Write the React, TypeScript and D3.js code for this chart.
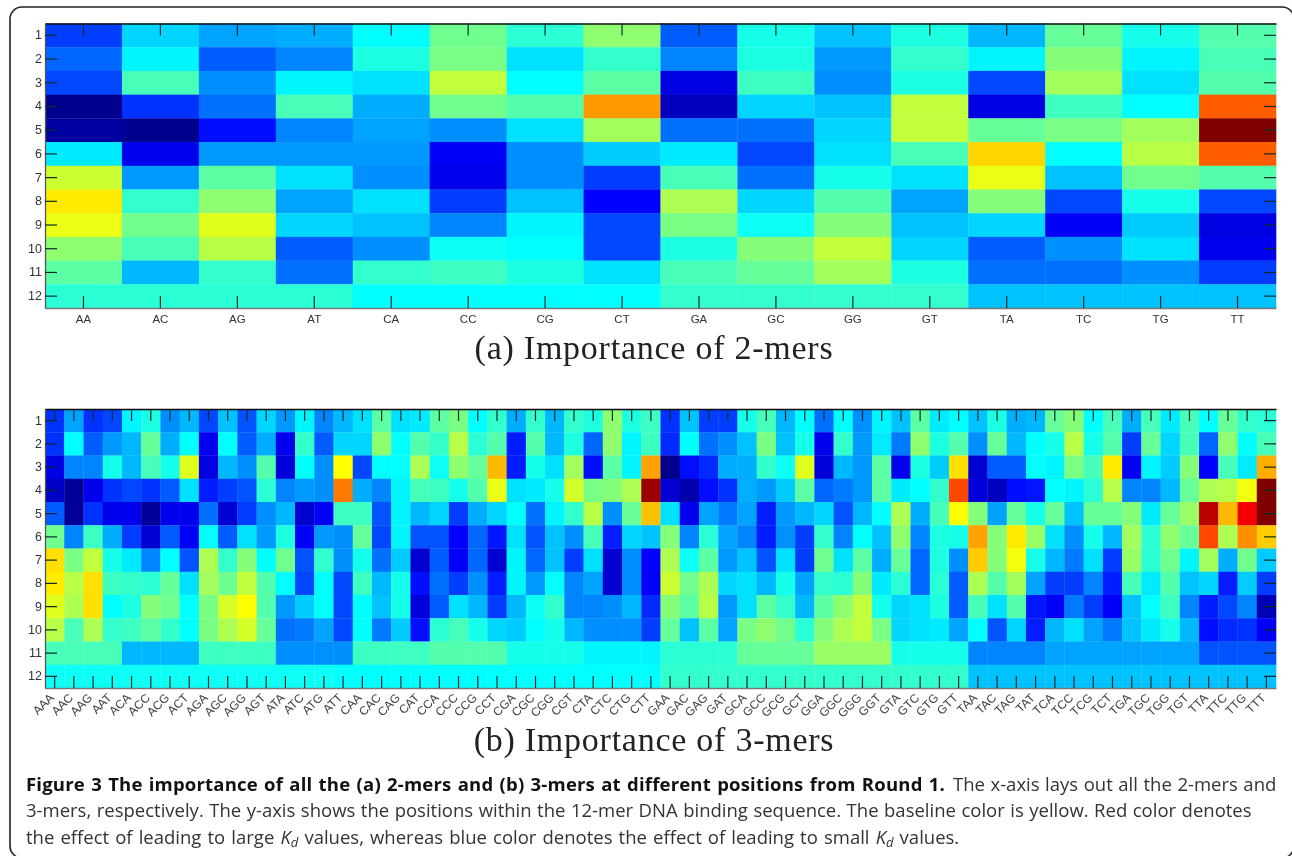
import React, { useEffect, useRef } from 'react';
import * as d3 from 'd3';

const positions = ['1', '2', '3', '4', '5', '6', '7', '8', '9', '10', '11', '12'];

const labels2mer = ['AA', 'AC', 'AG', 'AT', 'CA', 'CC', 'CG', 'CT', 'GA', 'GC', 'GG', 'GT', 'TA', 'TC', 'TG', 'TT'];

const labels3mer = [
  'AAA', 'AAC', 'AAG', 'AAT', 'ACA', 'ACC', 'ACG', 'ACT', 'AGA', 'AGC', 'AGG', 'AGT', 'ATA', 'ATC', 'ATG', 'ATT',
  'CAA', 'CAC', 'CAG', 'CAT', 'CCA', 'CCC', 'CCG', 'CCT', 'CGA', 'CGC', 'CGG', 'CGT', 'CTA', 'CTC', 'CTG', 'CTT',
  'GAA', 'GAC', 'GAG', 'GAT', 'GCA', 'GCC', 'GCG', 'GCT', 'GGA', 'GGC', 'GGG', 'GGT', 'GTA', 'GTC', 'GTG', 'GTT',
  'TAA', 'TAC', 'TAG', 'TAT', 'TCA', 'TCC', 'TCG', 'TCT', 'TGA', 'TGC', 'TGG', 'TGT', 'TTA', 'TTC', 'TTG', 'TTT',
];

// one row per k-mer, positions 1..12 (0 navy .. 100 dark red)
const values2mer = [
  [18, 22, 19, 0, 2, 35, 57, 64, 60, 51, 46, 41],
  [33, 36, 44, 17, 0, 10, 27, 42, 48, 44, 30, 41],
  [28, 21, 26, 23, 13, 27, 46, 51, 59, 55, 42, 41],
  [29, 25, 36, 44, 25, 27, 34, 28, 33, 21, 23, 41],
  [37, 40, 34, 29, 28, 27, 26, 34, 31, 26, 42, 37],
  [48, 49, 56, 48, 26, 11, 10, 18, 25, 38, 43, 37],
  [41, 34, 37, 45, 34, 26, 26, 31, 36, 37, 40, 37],
  [51, 42, 46, 72, 53, 32, 18, 12, 19, 19, 34, 37],
  [21, 25, 9, 5, 23, 35, 44, 54, 49, 40, 44, 42],
  [39, 40, 43, 33, 23, 19, 23, 33, 38, 50, 47, 42],
  [31, 27, 26, 31, 33, 34, 39, 45, 50, 56, 53, 42],
  [40, 42, 40, 56, 56, 44, 34, 28, 31, 33, 40, 42],
  [30, 36, 19, 9, 47, 66, 60, 50, 33, 21, 23, 31],
  [47, 50, 53, 43, 49, 37, 31, 19, 11, 26, 23, 31],
  [39, 36, 34, 37, 53, 55, 48, 39, 32, 34, 26, 31],
  [45, 44, 45, 78, 100, 78, 45, 19, 9, 10, 18, 31],
];

const values3mer = [
  [17, 17, 9, 6, 21, 48, 65, 64, 59, 55, 44, 38],
  [28, 37, 25, 1, 1, 25, 49, 55, 54, 44, 44, 38],
  [17, 21, 25, 10, 17, 43, 56, 65, 65, 54, 44, 38],
  [19, 27, 39, 17, 10, 29, 39, 43, 37, 42, 44, 38],
  [36, 30, 30, 19, 10, 18, 35, 42, 40, 43, 30, 38],
  [40, 47, 44, 17, 1, 7, 25, 41, 50, 46, 30, 38],
  [26, 29, 39, 21, 10, 21, 37, 47, 48, 42, 30, 38],
  [30, 37, 59, 34, 10, 11, 20, 34, 37, 37, 30, 38],
  [19, 10, 9, 15, 23, 37, 54, 53, 49, 49, 43, 38],
  [31, 37, 30, 18, 7, 21, 42, 48, 58, 54, 43, 38],
  [20, 21, 26, 20, 18, 34, 50, 56, 62, 58, 43, 38],
  [33, 29, 45, 41, 26, 27, 37, 45, 45, 47, 43, 38],
  [27, 10, 8, 25, 30, 40, 48, 37, 27, 23, 26, 38],
  [36, 42, 37, 27, 7, 11, 20, 19, 32, 24, 26, 38],
  [25, 21, 26, 26, 11, 27, 42, 37, 37, 28, 26, 38],
  [30, 33, 62, 75, 43, 26, 26, 19, 19, 19, 26, 37],
  [34, 33, 19, 29, 43, 47, 39, 43, 37, 37, 43, 37],
  [46, 51, 37, 25, 20, 19, 23, 30, 31, 24, 43, 37],
  [34, 37, 37, 36, 36, 36, 32, 39, 39, 32, 43, 37],
  [35, 45, 54, 44, 30, 20, 7, 13, 8, 13, 43, 37],
  [46, 42, 38, 43, 33, 20, 21, 23, 21, 41, 45, 37],
  [49, 55, 51, 39, 18, 12, 11, 18, 34, 44, 45, 37],
  [37, 41, 47, 45, 29, 22, 22, 26, 30, 39, 45, 37],
  [42, 45, 69, 60, 33, 14, 7, 15, 18, 33, 45, 37],
  [29, 15, 15, 34, 37, 34, 36, 36, 30, 32, 39, 37],
  [42, 45, 39, 35, 23, 20, 22, 27, 38, 37, 39, 37],
  [30, 30, 34, 39, 36, 31, 31, 37, 42, 39, 39, 37],
  [42, 40, 53, 58, 42, 26, 18, 25, 25, 30, 39, 37],
  [40, 22, 13, 49, 55, 44, 34, 28, 25, 26, 36, 37],
  [51, 51, 46, 50, 26, 15, 7, 7, 26, 26, 36, 37],
  [40, 36, 36, 54, 47, 33, 26, 26, 30, 26, 36, 37],
  [43, 43, 71, 97, 68, 31, 12, 11, 16, 18, 36, 37],
  [17, 16, 0, 7, 34, 50, 54, 57, 50, 47, 41, 42],
  [31, 37, 13, 3, 10, 25, 38, 48, 46, 31, 41, 42],
  [18, 23, 16, 13, 28, 41, 46, 54, 55, 46, 41, 42],
  [18, 26, 29, 17, 24, 28, 27, 33, 27, 28, 41, 42],
  [39, 31, 29, 29, 28, 25, 31, 34, 34, 49, 47, 42],
  [44, 49, 42, 27, 15, 15, 20, 30, 46, 51, 47, 42],
  [30, 31, 38, 32, 27, 26, 34, 39, 42, 48, 47, 42],
  [37, 39, 59, 46, 30, 18, 18, 28, 30, 41, 47, 42],
  [23, 10, 8, 22, 33, 42, 48, 42, 46, 50, 52, 42],
  [37, 42, 30, 24, 20, 25, 34, 41, 51, 54, 52, 42],
  [26, 27, 27, 27, 30, 37, 46, 50, 56, 56, 52, 42],
  [36, 35, 46, 46, 37, 31, 29, 35, 39, 49, 52, 42],
  [31, 24, 10, 35, 54, 51, 47, 41, 33, 33, 39, 42],
  [46, 51, 40, 37, 29, 25, 22, 22, 34, 34, 39, 42],
  [35, 40, 32, 42, 44, 40, 40, 41, 40, 35, 39, 42],
  [37, 45, 65, 80, 62, 39, 26, 21, 21, 28, 39, 42],
  [31, 26, 7, 8, 50, 71, 67, 54, 44, 37, 25, 31],
  [40, 47, 21, 5, 28, 50, 50, 45, 34, 20, 25, 31],
  [29, 30, 21, 13, 47, 64, 61, 53, 45, 33, 25, 31],
  [30, 37, 37, 14, 39, 52, 39, 28, 14, 15, 25, 31],
  [47, 39, 36, 37, 47, 34, 30, 18, 11, 30, 28, 31],
  [50, 55, 49, 36, 31, 26, 24, 18, 24, 34, 28, 31],
  [37, 39, 44, 41, 47, 39, 34, 25, 18, 28, 28, 31],
  [44, 45, 64, 55, 47, 30, 18, 15, 11, 24, 28, 31],
  [29, 18, 11, 25, 50, 53, 52, 44, 31, 31, 28, 31],
  [44, 47, 36, 25, 35, 41, 41, 35, 37, 35, 28, 31],
  [35, 33, 32, 30, 47, 51, 48, 45, 43, 39, 28, 31],
  [44, 44, 50, 47, 52, 47, 36, 31, 25, 30, 28, 31],
  [37, 22, 12, 54, 94, 80, 53, 33, 15, 13, 20, 31],
  [47, 51, 44, 55, 69, 54, 29, 15, 19, 16, 20, 31],
  [42, 37, 35, 61, 88, 73, 48, 32, 25, 17, 20, 31],
  [41, 44, 70, 100, 100, 67, 32, 18, 4, 11, 20, 31],
];

const jetStops = [0, 12, 37, 62, 87, 100];
const jetColors = ['#00008f', '#0000ff', '#00ffff', '#ffff00', '#ff0000', '#800000'];

const captionLines = [
  'The x-axis lays out all the 2-mers and',
  '3-mers, respectively. The y-axis shows the positions within the 12-mer DNA binding sequence. The baseline color is yellow. Red color denotes',
];

export default function App() {
  const svgRef = useRef<SVGSVGElement>(null);

  useEffect(() => {
    if (!svgRef.current) return;
    const svg = d3.select(svgRef.current);
    svg.selectAll('*').remove();

    const defs = svg.append('defs');
    defs.append('filter').attr('id', 'soft').append('feGaussianBlur').attr('stdDeviation', 0.5);
    defs.append('filter').attr('id', 'softer').append('feGaussianBlur').attr('stdDeviation', 0.3);

    svg.append('rect').attr('x', 10).attr('y', 7).attr('width', 1284).attr('height', 851).attr('rx', 12)
      .attr('fill', 'white').attr('stroke', '#222').attr('stroke-width', 1.6);

    const color = d3.scaleLinear<string>().domain(jetStops).range(jetColors).interpolate(d3.interpolateRgb);
    const left = 45, right = 1276, tickLen = 12;

    const drawHeatmap = (labels: string[], values: number[][], top: number, bottom: number, rotated: boolean) => {
      const x = d3.scaleBand().domain(labels).range([left, right]);
      const y = d3.scaleBand().domain(positions).range([top, bottom]);
      const cells = svg.append('g').attr('filter', 'url(#soft)');
      const g = svg.append('g').attr('filter', 'url(#softer)');

      labels.forEach((label, i) => {
        cells.append('g').selectAll('rect').data(values[i]).join('rect')
          .attr('x', x(label)!)
          .attr('y', (_, j) => y(positions[j])!)
          .attr('width', x.bandwidth() + 0.3)
          .attr('height', y.bandwidth() + 0.3)
          .attr('fill', (d) => color(d));
      });

      const axisBottom = g.append('g').attr('transform', `translate(0,${bottom})`)
        .call(d3.axisBottom(x).tickSizeInner(-tickLen).tickSizeOuter(0).tickPadding(5));
      const axisTop = g.append('g').attr('transform', `translate(0,${top})`)
        .call(d3.axisTop(x).tickSizeInner(-tickLen).tickSizeOuter(0).tickFormat(() => ''));
      const axisLeft = g.append('g').attr('transform', `translate(${left},0)`)
        .call(d3.axisLeft(y).tickSizeInner(-tickLen).tickSizeOuter(0).tickPadding(3));
      const axisRight = g.append('g').attr('transform', `translate(${right},0)`)
        .call(d3.axisRight(y).tickSizeInner(-tickLen).tickSizeOuter(0).tickFormat(() => ''));

      [axisBottom, axisTop, axisLeft, axisRight].forEach((a) => {
        a.selectAll('.tick line').attr('stroke', '#0c2c2c').attr('stroke-width', 1.2);
        a.selectAll('text').attr('fill', '#333').attr('font-family', 'Liberation Sans');
      });
      axisBottom.select('.domain').attr('stroke', '#777').attr('stroke-width', 1.4);
      axisTop.select('.domain').attr('stroke', '#111').attr('stroke-width', 1.3);
      axisLeft.select('.domain').attr('stroke', '#555').attr('stroke-width', 1.3);
      axisRight.select('.domain').remove();

      axisLeft.selectAll('text').attr('font-size', 12.5);
      if (rotated) {
        axisBottom.selectAll('.tick text')
          .attr('font-size', 12).attr('y', 0).attr('dy', 0).attr('text-anchor', 'end').attr('fill', '#444')
          .attr('transform', 'translate(0,10.5) rotate(-45)');
      } else {
        axisBottom.selectAll('.tick text').attr('font-size', 11.5).attr('y', 7).attr('dy', '0.71em');
      }
    };

    drawHeatmap(labels2mer, values2mer, 23.5, 308, false);
    drawHeatmap(labels3mer, values3mer, 409, 688, true);

    const subTitle = (label: string, baseline: number) => svg.append('text')
      .attr('x', 654).attr('y', baseline).attr('text-anchor', 'middle').attr('letter-spacing', 0.75)
      .attr('font-family', 'Liberation Serif').attr('font-size', 34).attr('fill', '#222').text(label);
    subTitle('(a) Importance of 2-mers', 359);
    subTitle('(b) Importance of 3-mers', 751);

    const caption = svg.append('g').attr('font-family', 'Open Sans').attr('font-size', 18.5).attr('fill', '#333');
    const line1 = caption.append('text').attr('x', 26).attr('y', 791);
    line1.append('tspan').attr('font-weight', 'bold').attr('fill', '#111').attr('letter-spacing', 0.2).attr('word-spacing', 1.2)
      .text('Figure 3 The importance of all the (a) 2-mers and (b) 3-mers at different positions from Round 1.');
    line1.append('tspan').attr('x', 953).attr('word-spacing', 0.75).text(captionLines[0]);
    caption.append('text').attr('x', 26).attr('y', 817).attr('word-spacing', 0.7).text(captionLines[1]);
    const line3 = caption.append('text').attr('x', 26).attr('y', 844).attr('word-spacing', 1.3);
    const kd = () => {
      line3.append('tspan').attr('font-style', 'italic').text('K');
      line3.append('tspan').attr('font-style', 'italic').attr('font-size', 13).attr('dy', 3).text('d');
    };
    line3.append('tspan').text('the effect of leading to large ');
    kd();
    line3.append('tspan').attr('dy', -3).text(' values, whereas blue color denotes the effect of leading to small ');
    kd();
    line3.append('tspan').attr('dy', -3).text(' values.');
  }, []);

  return (
    <svg ref={svgRef} width={1292} height={856} viewBox="0 0 1292 856"
      style={{ position: 'fixed', left: 0, top: 0, background: 'white' }} />
  );
}
